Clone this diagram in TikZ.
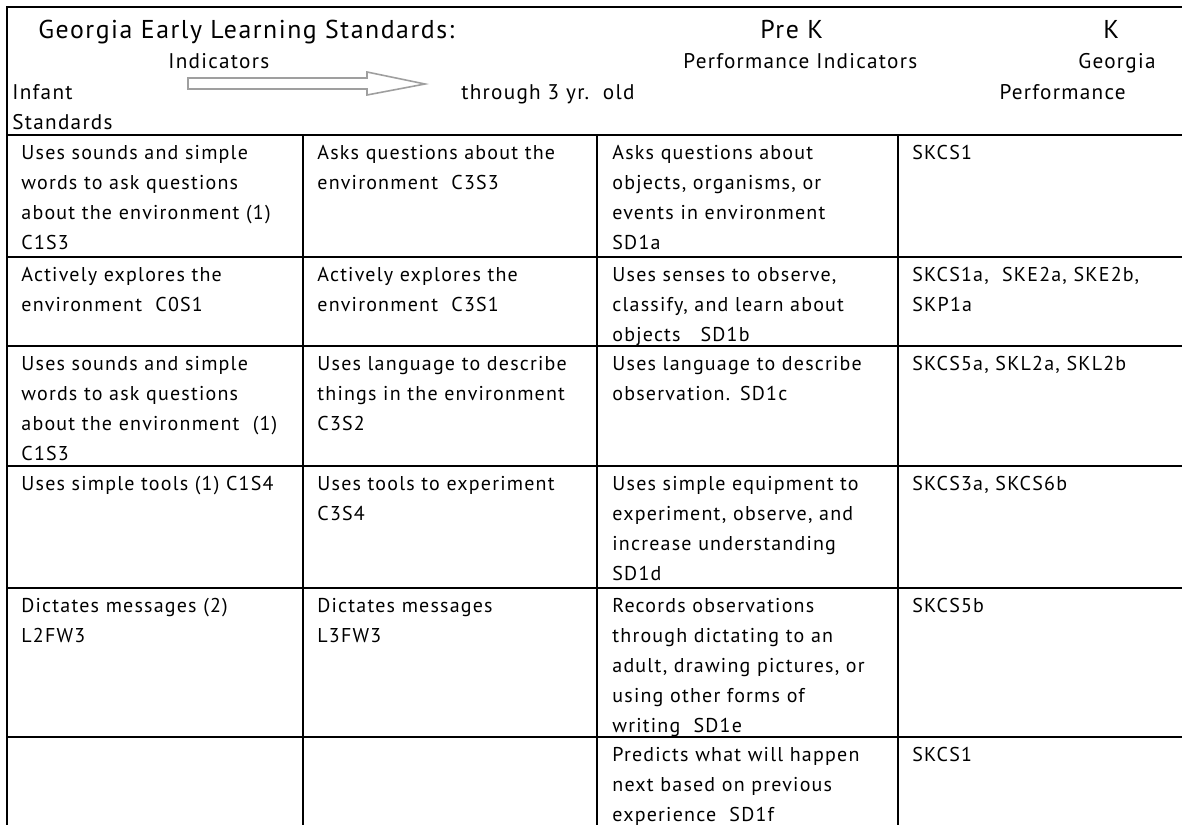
\documentclass[tikz,border=0pt]{standalone}
\usepackage{fontspec}
\setmainfont{PT Sans}[LetterSpace=6]
\newcommand\cellfont{\fontsize{10}{15}\selectfont}
\newcommand\headfont{\fontsize{10.6}{15}\selectfont}
\newcommand\titlefont{\fontsize{12.9}{15}\selectfont}
\begin{document}
\begin{tikzpicture}
[x=0.5pt, y=-0.5pt, every node/.style={inner sep=0pt},
 cell/.style={anchor=base west, align=left, text width=145pt, font=\cellfont},
 head/.style={anchor=base west, font=\headfont},
 rule/.style={line width=1.3pt, color=black}]
\useasboundingbox (0,0) rectangle (1182,825);
\node (title) [head, font=\titlefont] at (38, 38) {Georgia Early Learning Standards:};
\node (prek) [head, font=\titlefont] at (760, 38) {Pre K};
\node (kinder) [head, font=\titlefont] at (1103, 38) {K};
\node (indic) [head] at (168, 68) {Indicators};
\node (perfind) [head] at (683, 68) {Performance Indicators};
\node (georgia) [head, anchor=base east] at (1156, 68) {Georgia};
\node (infant) [head] at (12, 99) {Infant};
\node (through) [head] at (461, 99) {through 3 yr.\ \ old};
\node (perform) [head, anchor=base east] at (1126, 99) {Performance};
\node (stand) [head] at (12, 129) {Standards};
\draw [line width=0.8pt, color=gray!75] (188,78) -- (367,78) -- (367,72) -- (425,84) -- (367,95) -- (367,89) -- (188,89) -- cycle;
\node (inf1) [cell] at (21, 159) {Uses sounds and simple\\words to ask questions\\about the environment (1)\\C1S3};
\node (tod1) [cell] at (317, 159) {Asks questions about the\\environment\ \ C3S3};
\node (pre1) [cell] at (612, 159) {Asks questions about\\objects, organisms, or\\events in environment\\SD1a};
\node (kin1) [cell] at (912, 159) {SKCS1};
\node (inf2) [cell] at (21, 281) {Actively explores the\\environment\ \ C0S1};
\node (tod2) [cell] at (317, 281) {Actively explores the\\environment\ \ C3S1};
\node (pre2) [cell] at (612, 281) {Uses senses to observe,\\classify, and learn about\\objects\ \ \ SD1b};
\node (kin2) [cell] at (912, 281) {SKCS1a,\ \ SKE2a, SKE2b,\\SKP1a};
\node (inf3) [cell] at (21, 370) {Uses sounds and simple\\words to ask questions\\about the environment\ \ (1)\\C1S3};
\node (tod3) [cell] at (317, 370) {Uses language to describe\\things in the environment\\C3S2};
\node (pre3) [cell] at (612, 370) {Uses language to describe\\observation. SD1c};
\node (kin3) [cell] at (912, 370) {SKCS5a, SKL2a, SKL2b};
\node (inf4) [cell] at (21, 490) {Uses simple tools (1) C1S4};
\node (tod4) [cell] at (317, 490) {Uses tools to experiment\\C3S4};
\node (pre4) [cell] at (612, 490) {Uses simple equipment to\\experiment, observe, and\\increase understanding\\SD1d};
\node (kin4) [cell] at (912, 490) {SKCS3a, SKCS6b};
\node (inf5) [cell] at (21, 612) {Dictates messages (2)\\L2FW3};
\node (tod5) [cell] at (317, 612) {Dictates messages\\L3FW3};
\node (pre5) [cell] at (612, 612) {Records observations\\through dictating to an\\adult, drawing pictures, or\\using other forms of\\writing\ \ SD1e};
\node (kin5) [cell] at (912, 612) {SKCS5b};
\node (pre6) [cell] at (612, 761) {Predicts what will happen\\next based on previous\\experience\ \ SD1f};
\node (kin6) [cell] at (912, 761) {SKCS1};
\draw [rule] (7,7) -- (1182,7);
\draw [rule] (7,135) -- (1182,135);
\draw [rule] (7,257) -- (1182,257);
\draw [rule] (7,346) -- (1182,346);
\draw [rule] (7,466) -- (1182,466);
\draw [rule] (7,588) -- (1182,588);
\draw [rule] (7,737) -- (1182,737);
\draw [rule] (7,6) -- (7,825);
\draw [rule] (303,135) -- (303,825);
\draw [rule] (597,135) -- (597,825);
\draw [rule] (898,135) -- (898,825);
\end{tikzpicture}
\end{document}
